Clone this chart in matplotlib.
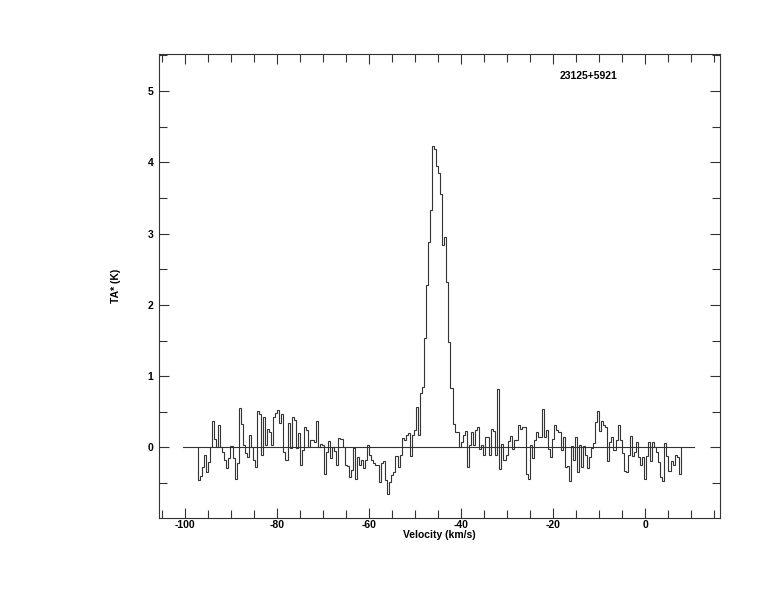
import numpy as np
import matplotlib
matplotlib.use("Agg")
import matplotlib.pyplot as plt
from matplotlib.ticker import MultipleLocator

plt.rcParams['font.family'] = ['Liberation Sans', 'DejaVu Sans']
plt.rcParams['axes.unicode_minus'] = False

# spectrum, TA* (K) per channel
ta_part1 = [-0.46, -0.40, -0.27, -0.11, -0.35, -0.20, 0.00, 0.37, 0.12, 0.01,
            0.31, 0.01, -0.06, -0.18, -0.29, -0.15, 0.02, -0.15, -0.44, -0.22,
            0.56, 0.33, 0.03, -0.08, -0.13, 0.17, 0.01, -0.18, -0.27, 0.51,
            0.47, -0.11, 0.43, 0.03, 0.26, 0.22, 0.03, 0.43, 0.48, 0.52,
            0.34, 0.47, -0.06, -0.18, 0.34, -0.01, 0.43, 0.38, -0.01, 0.20,
            -0.24, -0.04, 0.28, 0.25, 0.01, 0.10, 0.10, 0.08, 0.37]
ta_part2 = [0.00, 0.05, 0.03, -0.37, -0.07, 0.09, -0.15, 0.00, -0.05, -0.25,
            0.13, 0.12, 0.00, -0.25, -0.26, -0.41, -0.32, -0.01, -0.44, -0.13,
            -0.25, -0.18, -0.29, -0.18, 0.03, -0.11, -0.18, -0.22, -0.25, -0.25,
            -0.49, -0.22, -0.19, -0.46, -0.65, -0.49, -0.39, -0.34, -0.12, -0.27,
            -0.10]
ta_peak = [0.13, 0.10, 0.18, 0.20, -0.12, 0.17, 0.24, 0.57, 0.18, 0.76,
           0.85, 1.53, 2.28, 2.88, 3.33, 4.23, 4.19, 3.95, 3.85, 3.55,
           2.84, 2.95, 2.32, 1.48, 0.83]
ta_part3 = [0.33, 0.22, 0.21, 0.01, 0.07, 0.17, 0.23, -0.28, 0.03, 0.21,
            0.03, 0.25, 0.29, -0.02, 0.04, -0.11, 0.15, 0.15, -0.11, 0.26,
            0.23, -0.11, 0.82, -0.30, 0.05, -0.17, -0.10, 0.09, 0.16, -0.02,
            0.10, 0.10, 0.32, 0.26, 0.29, 0.29, -0.37, -0.44, 0.04, -0.15,
            0.11, 0.21, 0.15, 0.15, 0.54, 0.15, 0.24, -0.02, -0.13, 0.12,
            0.32, 0.24, 0.22, -0.04, 0.15, -0.28]
ta_part4 = [-0.26, -0.47, 0.02, -0.18, 0.14, -0.35, 0.03, -0.27, 0.02, -0.11,
            -0.29, -0.13, -0.01, 0.06, 0.36, 0.51, 0.23, 0.37, 0.32, 0.28,
            -0.19, 0.07, 0.14, -0.03, 0.10, 0.31, 0.10, -0.08, -0.33, -0.35,
            -0.11, 0.16, -0.12, -0.06, 0.07, -0.13, -0.25, -0.13, -0.44,
            -0.12, 0.08, -0.19, 0.08, 0.00, -0.06, -0.20, -0.41, -0.47, 0.06,
            -0.12, -0.33, -0.19, -0.25, -0.11, -0.13, -0.37]

ta = np.array(ta_part1 + ta_part2 + ta_peak + ta_part3 + ta_part4)
v_start = -97.2
v_end = 7.76
edges = np.linspace(v_start, v_end, len(ta) + 1)

source = "23125+5921"

fig = plt.figure(figsize=(7.74, 6.12), dpi=100)
ax = fig.add_axes([159 / 774, 94 / 612, 561 / 774, 464 / 612])

ax.stairs(ta, edges, color="#333333", lw=0.8)
ax.plot([-100.4, 10.6], [0, 0], color="#333333", lw=0.8)

ax.set_xlim(-105.65, 16.3)
ax.set_ylim(-0.99, 5.52)

ax.xaxis.set_major_locator(MultipleLocator(20))
ax.xaxis.set_minor_locator(MultipleLocator(5))
ax.yaxis.set_major_locator(MultipleLocator(1))
ax.yaxis.set_minor_locator(MultipleLocator(0.5))
ax.tick_params(which="both", direction="in", top=True, right=True,
               width=0.8, color="#333333", labelsize=7.5)
ax.tick_params(which="major", length=7.5)
ax.tick_params(which="minor", length=5.5)
ax.xaxis.set_tick_params(pad=1.5)
ax.yaxis.set_tick_params(pad=4)
for lab in ax.get_xticklabels() + ax.get_yticklabels():
    lab.set_fontweight("bold")

for sp in ax.spines.values():
    sp.set_linewidth(0.8)
    sp.set_color("#333333")

ax.set_xlabel("Velocity (km/s)", fontsize=7.5, fontweight="bold", labelpad=0)
ax.set_ylabel("TA* (K)", fontsize=7.5, fontweight="bold", labelpad=19)
ax.text(0.765, 0.952, source, transform=ax.transAxes, fontsize=7.5,
        fontweight="bold", ha="center", va="center")

fig.savefig("out.png", dpi=100)
